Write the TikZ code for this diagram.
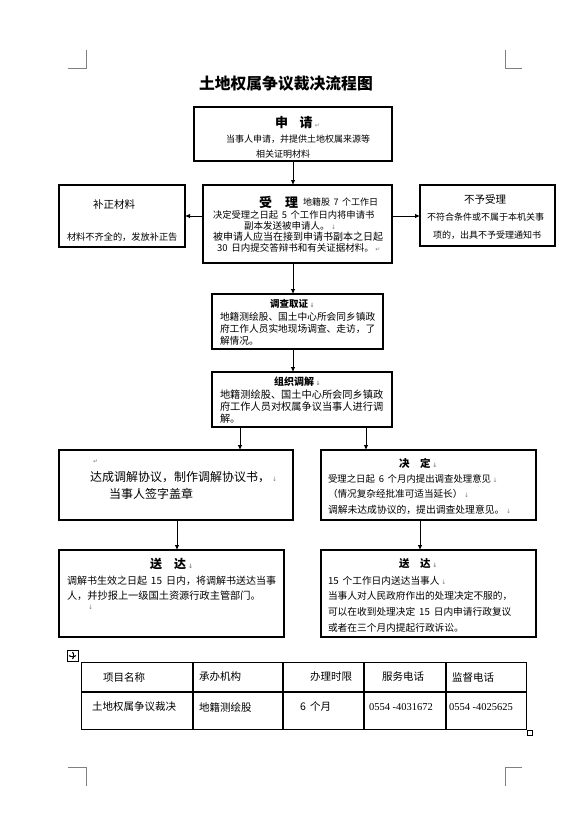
\documentclass[tikz,border=0pt]{standalone}
\usepackage{fontspec}
\setmainfont{Noto Sans CJK SC}
\newfontfamily\mysymf{DejaVu Sans}
\newfontfamily\mynumf{Liberation Serif}
\usetikzlibrary{arrows.meta}
\newcommand{\myfs}[1]{\fontsize{#1}{#1}\selectfont}
\newcommand{\mypm}[1]{{\color{gray}\mysymf\fontsize{6}{6}\selectfont #1}}
\newcommand{\mydn}{\,\mypm{↓}}
\newcommand{\myrt}{\,\mypm{↵}}
\newcommand{\mysp}{\hspace{0.4em}}
\begin{document}
\begin{tikzpicture}[x=1pt,y=-1pt,
  box/.style={draw, line width=1.1pt, anchor=north west, inner sep=0pt, outer sep=0pt},
  tx/.style={anchor=west, inner sep=0pt, outer sep=0pt},
  arr/.style={line width=0.8pt, -{Latex[length=5pt,width=4.5pt]}},
  crop/.style={draw=gray, line width=0.8pt},
  tab/.style={line width=1.1pt}]
\fill[white] (0,0) rectangle (584,833);
\useasboundingbox (0,0) rectangle (584,833);

% crop marks
\draw[crop] (68,68) -- (86,68) -- (86,50);
\draw[crop] (505,50) -- (505,68) -- (522,68);
\draw[crop] (68,767) -- (86,767) -- (86,786);
\draw[crop] (522,767) -- (505,767) -- (505,786);

% title
\node[tx, font={\bfseries\myfs{15.8}}] (title) at (199,84) {土地权属争议裁决流程图};

% 申请
\node[box, minimum width=198pt, minimum height=54pt] (sq) at (194,107) {};
\node[tx, font={\myfs{13}}] (sqt) at (275,123) {\textbf{申\hspace{0.9em}请}\myrt};
\node[tx, font={\myfs{9}}] (sq1) at (226,139) {当事人申请，并提供土地权属来源等};
\node[tx, font={\myfs{9}}] (sq2) at (256,154) {相关证明材料};

% 受理
\node[box, minimum width=189pt, minimum height=78pt] (sl) at (203,185) {};
\node[tx, font={\myfs{13}}] (slt) at (259,202) {\textbf{受\hspace{1em}理}};
\node[tx, font={\myfs{9}}] (slt2) at (303,202) {地籍股\mysp 7\mysp 个工作日};
\node[tx, font={\myfs{9.3}}] (sl1) at (213,215) {决定受理之日起\mysp 5\mysp 个工作日内将申请书};
\node[tx, font={\myfs{9.5}}] (sl2) at (244,226) {副本发送被申请人。\mydn};
\node[tx, font={\myfs{10}}] (sl3) at (213,237) {被申请人应当在接到申请书副本之日起};
\node[tx, font={\myfs{9.5}}] (sl4) at (217,248) {30\mysp 日内提交答辩书和有关证据材料。\myrt};

% 补正材料
\node[box, minimum width=126pt, minimum height=62pt] (bz) at (59,185) {};
\node[tx, font={\myfs{10.5}}] (bz1) at (93,205) {补正材料};
\node[tx, font={\myfs{9.2}}] (bz2) at (67,237) {材料不齐全的，发放补正告};

% 不予受理
\node[box, minimum width=135pt, minimum height=61pt] (by) at (420,185) {};
\node[tx, font={\myfs{10.5}}] (by1) at (464,199) {不予受理};
\node[tx, font={\myfs{9}}] (by2) at (427,217) {不符合条件或不属于本机关事};
\node[tx, font={\myfs{9}}] (by3) at (433,235) {项的，出具不予受理通知书};

% 调查取证
\node[box, minimum width=171pt, minimum height=55pt] (dc) at (212,294) {};
\node[tx, font={\bfseries\myfs{9.5}}] (dct) at (270,304) {调查取证\mydn};
\node[tx, font={\myfs{9.7}}] (dc1) at (220,317) {地籍测绘股、国土中心所会同乡镇政};
\node[tx, font={\myfs{9.7}}] (dc2) at (220,329) {府工作人员实地现场调查、走访，了};
\node[tx, font={\myfs{9.7}}] (dc3) at (220,341) {解情况。};

% 组织调解
\node[box, minimum width=180pt, minimum height=55pt] (zz) at (212,372) {};
\node[tx, font={\bfseries\myfs{10}}] (zzt) at (274,382) {组织调解\mydn};
\node[tx, font={\myfs{10.2}}] (zz1) at (220,395) {地籍测绘股、国土中心所会同乡镇政};
\node[tx, font={\myfs{10.2}}] (zz2) at (220,407) {府工作人员对权属争议当事人进行调};
\node[tx, font={\myfs{10.2}}] (zz3) at (220,419) {解。};

% 达成调解协议
\node[box, minimum width=234pt, minimum height=70pt] (dd) at (59,450) {};
\node[tx] (ddm) at (93,462) {\mypm{↵}};
\node[tx, font={\myfs{12}}] (dd1) at (90,477) {达成调解协议，制作调解协议书，\mydn};
\node[tx, font={\myfs{12}}] (dd2) at (109,494) {当事人签字盖章};

% 决定
\node[box, minimum width=215pt, minimum height=70pt] (jd) at (321,450) {};
\node[tx, font={\bfseries\myfs{10.5}}] (jdt) at (399,463) {决\hspace{1em}定\mydn};
\node[tx, font={\myfs{9.4}}] (jd1) at (328,479) {受理之日起\mysp 6\mysp 个月内提出调查处理意见\mydn};
\node[tx, font={\myfs{9.6}}] (jd2) at (328,494) {（情况复杂经批准可适当延长）\mydn};
\node[tx, font={\myfs{9.8}}] (jd3) at (328,510) {调解未达成协议的，提出调查处理意见。\mydn};

% 送达 left
\node[box, minimum width=225pt, minimum height=87pt] (sdl) at (59,550) {};
\node[tx, font={\bfseries\myfs{12}}] (sdlt) at (150,564) {送\hspace{1em}达\mydn};
\node[tx, font={\myfs{10}}] (sdl1) at (67,581) {调解书生效之日起\mysp 15\mysp 日内，将调解书送达当事};
\node[tx, font={\myfs{10.2}}] (sdl2) at (67,596) {人，并抄报上一级国土资源行政主管部门。};
\node[tx] (sdlm) at (88,607) {\mypm{↓}};

% 送达 right
\node[box, minimum width=215pt, minimum height=87pt] (sdr) at (321,550) {};
\node[tx, font={\bfseries\myfs{10.5}}] (sdrt) at (399,564) {送\hspace{1em}达\mydn};
\node[tx, font={\myfs{9.7}}] (sdr1) at (328,581) {15\mysp 个工作日内送达当事人\mydn};
\node[tx, font={\myfs{9.7}}] (sdr2) at (328,596) {当事人对人民政府作出的处理决定不服的，};
\node[tx, font={\myfs{9.7}}] (sdr3) at (328,612) {可以在收到处理决定\mysp 15\mysp 日内申请行政复议};
\node[tx, font={\myfs{9.7}}] (sdr4) at (328,628) {或者在三个月内提起行政诉讼。};

% connectors
\draw[arr] (sq.south) -- (sq.south |- sl.north);
\draw[arr] (sl.west |- 0,216) -- (bz.east |- 0,216);
\draw[arr] (sl.east |- 0,216) -- (by.west |- 0,216);
\draw[arr] (sl.south -| sq.south) -- (dc.north -| sq.south);
\draw[arr] (dc.south -| sq.south) -- (zz.north -| sq.south);
\draw[arr] (zz.south -| 240,0) -- (dd.north -| 240,0);
\draw[arr] (zz.south -| 366,0) -- (jd.north -| 366,0);
\draw[arr] (dd.south -| 177,0) -- (sdl.north -| 177,0);
\draw[arr] (jd.south -| 420,0) -- (sdr.north -| 420,0);

% table handle
\node[draw, line width=0.7pt, minimum width=11pt, minimum height=11pt, inner sep=0pt, anchor=north west] (hd) at (67,650) {};
\draw[line width=0.5pt, {Latex[length=1.8pt,width=2pt]}-{Latex[length=1.8pt,width=2pt]}] (hd.center |- 0,651.5) -- (hd.center |- 0,659.5);
\draw[line width=0.5pt, {Latex[length=1.8pt,width=2pt]}-{Latex[length=1.8pt,width=2pt]}] (hd.center -| 68.5,0) -- (hd.center -| 76.5,0);

% table
\node[draw, tab, anchor=north west, minimum width=445pt, minimum height=67pt, inner sep=0pt] (tb) at (81,662) {};
\draw[tab] (81,692) -- (526,692);
\foreach \cx in {193,283,364,446} \draw[tab] (\cx,662) -- (\cx,729);
\node[draw, line width=0.6pt, minimum width=5pt, minimum height=5pt, inner sep=0pt, anchor=north west] (sqm) at (527,730) {};

\node[tx, font={\myfs{10.5}}] (h1) at (103,677) {项目名称};
\node[tx, font={\myfs{10.5}}] (h2) at (199,677) {承办机构};
\node[tx, font={\myfs{10.5}}] (h3) at (310,677) {办理时限};
\node[tx, font={\myfs{10.5}}] (h4) at (382,677) {服务电话};
\node[tx, font={\myfs{10.5}}] (h5) at (452,677) {监督电话};
\node[tx, font={\myfs{10.5}}] (r1) at (92,707) {土地权属争议裁决};
\node[tx, font={\myfs{10.5}}] (r2) at (199,707) {地籍测绘股};
\node[tx, font={\myfs{10.5}}] (r3) at (300,707) {6\mysp 个月};
\node[tx, font={\mynumf\myfs{10.5}}] (r4) at (369,707) {0554 -4031672};
\node[tx, font={\mynumf\myfs{10.5}}] (r5) at (449,707) {0554 -4025625};
\end{tikzpicture}
\end{document}
